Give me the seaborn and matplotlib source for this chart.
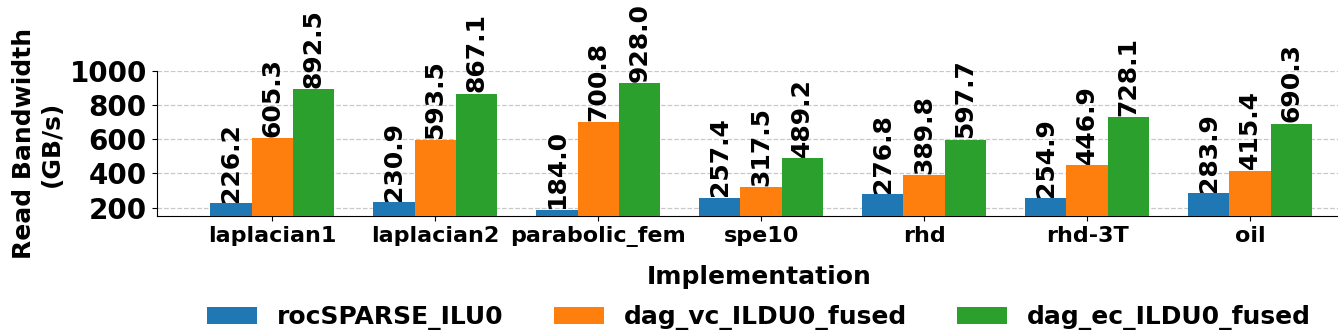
import pandas as pd
import numpy as np
import matplotlib.pyplot as plt
import seaborn as sns

matrices = ["laplacian1", "laplacian2", "parabolic_fem", "spe10", "rhd", "rhd-3T", "oil"]
impls = ["rocSPARSE_ILU0", "dag_vc_ILDU0_fused", "dag_ec_ILDU0_fused"]
roc = [226.2, 230.9, 184.0, 257.4, 276.8, 254.9, 283.9]
vc = [605.3, 593.5, 700.8, 317.5, 389.8, 446.9, 415.4]
ec = [892.5, 867.1, 928.0, 489.2, 597.7, 728.1, 690.3]

df = pd.DataFrame({
    "Matrix": matrices * 3,
    "Implementation": np.repeat(impls, len(matrices)),
    "Bandwidth": roc + vc + ec,
})

plt.rcParams["font.family"] = "DejaVu Sans"
plt.rcParams["font.weight"] = "bold"

fig = plt.figure(figsize=(13.38, 3.35), dpi=100)
ax = fig.add_axes([0.117, 0.355, 0.883, 0.433])

sns.barplot(data=df, x="Matrix", y="Bandwidth", hue="Implementation",
            palette=["#1f77b4", "#ff7f0e", "#2ca02c"], width=0.76, gap=0,
            saturation=1, ax=ax, zorder=3)

for cont in ax.containers:
    ax.bar_label(cont, fmt="%.1f", rotation=90, fontsize=18, fontweight="bold",
                 padding=1, clip_on=False)

ax.set_ylim(150, 1000)
ax.set_xlim(-0.71, 6.54)
ax.set_yticks([200, 400, 600, 800, 1000])
ax.tick_params(axis="y", labelsize=20)
ax.tick_params(axis="x", labelsize=16)
for lbl in ax.get_yticklabels() + ax.get_xticklabels():
    lbl.set_fontweight("bold")
ax.yaxis.grid(True, linestyle="--", color="#c8c8c8", linewidth=0.9, zorder=0)
ax.set_axisbelow(True)
sns.despine(ax=ax)

ax.set_ylabel("Read Bandwidth\n(GB/s)", fontsize=18, fontweight="bold")
ax.set_xlabel("Implementation", fontsize=18, fontweight="bold", labelpad=14)
ax.xaxis.set_label_coords(0.51, -0.34)

ax.legend(loc="upper center", bbox_to_anchor=(0.51, -0.46), ncol=3, frameon=False,
          handlelength=2.0, columnspacing=2.0,
          prop={"weight": "bold", "size": 18})

fig.savefig("out.png", dpi=100)
